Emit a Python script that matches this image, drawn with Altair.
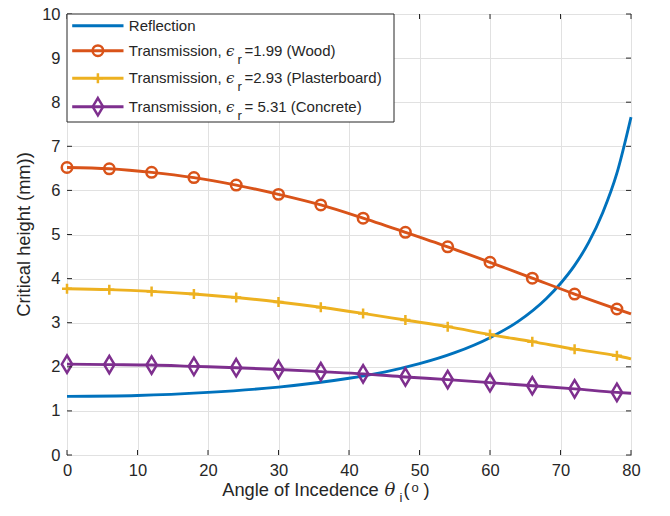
import altair as alt
import pandas as pd

# Reflection curve, sampled more densely where it bends upward
angles_ref = [0, 10, 20, 30, 40, 45, 50, 55, 60, 64, 68, 70, 72, 74, 76, 78, 80]
reflection = [1.33, 1.35, 1.42, 1.54, 1.74, 1.88, 2.07, 2.32, 2.66, 3.03, 3.55,
              3.89, 4.30, 4.82, 5.50, 6.39, 7.66]

# Transmission curves (markers every 6 degrees, line runs to 80)
angles_tx = [0, 6, 12, 18, 24, 30, 36, 42, 48, 54, 60, 66, 72, 78, 80]
wood = [6.52, 6.49, 6.41, 6.29, 6.12, 5.91, 5.67, 5.37, 5.05, 4.72, 4.37, 4.01, 3.65, 3.31, 3.20]
plaster = [3.77, 3.75, 3.71, 3.65, 3.57, 3.47, 3.35, 3.21, 3.06, 2.91, 2.73, 2.57, 2.40, 2.25, 2.18]
concrete = [2.06, 2.05, 2.04, 2.01, 1.98, 1.94, 1.89, 1.84, 1.77, 1.71, 1.64, 1.57, 1.50, 1.42, 1.40]

series_names = ["Reflection", "Wood", "Plasterboard", "Concrete"]
series_colors = ["#0072BD", "#D95319", "#EDB120", "#7E2F8E"]
legend_rest = ["", "=1.99 (Wood)", "=2.93 (Plasterboard)", "= 5.31 (Concrete)"]

x_ticks = [0, 10, 20, 30, 40, 50, 60, 70, 80]
y_ticks = [0, 1, 2, 3, 4, 5, 6, 7, 8, 9, 10]

W, H = 564, 441
INK = "#262626"
SANS = "Liberation Sans"
SERIF = "DejaVu Serif"

SHAPE_CIRCLE = "circle"
SHAPE_PLUS = "M-1,0L1,0M0,-1L0,1"
SHAPE_DIAMOND = "M0,-1L0.6,0L0,1L-0.6,0Z"
marker_shapes = [None, SHAPE_CIRCLE, SHAPE_PLUS, SHAPE_DIAMOND]
marker_sizes = [0, 110, 100, 300]

rows = []
for a, v in zip(angles_ref, reflection):
    rows.append({"series": "Reflection", "angle": a, "h": v})
for name, vals in zip(series_names[1:], [wood, plaster, concrete]):
    for a, v in zip(angles_tx, vals):
        rows.append({"series": name, "angle": a, "h": v})
df = pd.DataFrame(rows)

xs = alt.Scale(domain=[0, 80], nice=False, zero=False)
ys = alt.Scale(domain=[0, 10], nice=False, zero=False)

base = alt.Chart(df)

axes = base.mark_line(opacity=0).encode(
    x=alt.X("angle:Q", scale=xs,
            axis=alt.Axis(values=x_ticks, title=None, grid=True, ticks=False, tickSize=0,
                          domain=False, labelPadding=7, labelFontSize=16.5, labelFlush=False,
                          labelFont=SANS, labelColor=INK, format="d")),
    y=alt.Y("h:Q", scale=ys,
            axis=alt.Axis(values=y_ticks, title=None, grid=True, ticks=False, tickSize=0,
                          domain=False, labelPadding=7, labelFontSize=16.5, labelFlush=False,
                          labelFont=SANS, labelColor=INK, format="d")),
    detail="series:N",
)

layers = [axes]

# data lines
for name, color in zip(series_names, series_colors):
    layers.append(
        base.transform_filter(alt.datum.series == name)
        .mark_line(color=color, strokeWidth=2.9, interpolate="monotone")
        .encode(x=alt.X("angle:Q", scale=xs), y=alt.Y("h:Q", scale=ys))
    )

# hollow markers every 6 degrees
for name, color, shp, sz in zip(series_names[1:], series_colors[1:], marker_shapes[1:], marker_sizes[1:]):
    layers.append(
        base.transform_filter((alt.datum.series == name) & (alt.datum.angle < 80))
        .mark_point(shape=shp, size=sz, filled=False, color=color, strokeWidth=2.5, opacity=1)
        .encode(x=alt.X("angle:Q", scale=xs), y=alt.Y("h:Q", scale=ys))
    )

# inward tick marks on all four sides
xt = alt.Chart(pd.DataFrame({"t": x_ticks}))
yt = alt.Chart(pd.DataFrame({"t": y_ticks}))
TL = 5
layers += [
    xt.mark_rule(color=INK, strokeWidth=1).encode(x=alt.X("t:Q", scale=xs), y=alt.value(H), y2=alt.value(H - TL)),
    xt.mark_rule(color=INK, strokeWidth=1).encode(x=alt.X("t:Q", scale=xs), y=alt.value(0), y2=alt.value(TL)),
    yt.mark_rule(color=INK, strokeWidth=1).encode(y=alt.Y("t:Q", scale=ys), x=alt.value(0), x2=alt.value(TL)),
    yt.mark_rule(color=INK, strokeWidth=1).encode(y=alt.Y("t:Q", scale=ys), x=alt.value(W), x2=alt.value(W - TL)),
]

one = alt.Data(values=[{}])


def text(t, x, y, size, font=SANS, style="normal", align="left", baseline="alphabetic", angle=0):
    return alt.Chart(one).mark_text(
        text=t, font=font, fontSize=size, fontStyle=style, color=INK,
        align=align, baseline=baseline, angle=angle,
    ).encode(x=alt.value(x), y=alt.value(y))


# legend box
layers.append(
    alt.Chart(one).mark_rect(fill="white", stroke=INK, strokeWidth=1)
    .encode(x=alt.value(0), x2=alt.value(327), y=alt.value(0), y2=alt.value(108))
)

row_y = [11.7, 36.7, 64.3, 92.7]
for i, (name, color) in enumerate(zip(series_names, series_colors)):
    ly = row_y[i]
    layers.append(
        alt.Chart(one).mark_rule(color=color, strokeWidth=2.9)
        .encode(x=alt.value(5.2), x2=alt.value(56.5), y=alt.value(ly))
    )
    if marker_shapes[i]:
        layers.append(
            alt.Chart(one).mark_point(shape=marker_shapes[i], size=marker_sizes[i], filled=False,
                                      color=color, strokeWidth=2.5, opacity=1)
            .encode(x=alt.value(30.9), y=alt.value(ly))
        )
    tb = ly + 5
    if i == 0:
        layers.append(text("Reflection", 61.8, tb, 15))
    else:
        layers.append(text("Transmission,", 61.8, tb, 15))
        layers.append(text("\u03f5", 159, tb, 15, font=SERIF, style="italic"))
        layers.append(text("r", 170.5, tb + 8, 13))
        layers.append(text(legend_rest[i], 177.5, tb, 15))

# axis titles
TB = 482
layers += [
    text("Angle of Incedence", 155.2, TB, 18.3),
    text("\u03b8", 317.5, TB, 18, font=SERIF, style="italic"),
    text("i", 332.5, TB + 6, 13),
    text("(", 336.5, TB, 18.3),
    text("o", 344.5, TB - 4, 13),
    text(")", 356.5, TB, 18.3),
    text("Critical height (mm))", -42.5, H / 2, 18.3, align="center", baseline="middle", angle=270),
]

chart = alt.layer(*layers).properties(
    width=W, height=H,
    autosize=alt.AutoSizeParams(type="none"),
    padding={"left": 67, "top": 14, "right": 39, "bottom": 61},
    background="white",
).configure_view(
    stroke=INK, strokeWidth=1,
).configure_axis(
    gridColor="#e1e1e1", gridWidth=1,
)

chart.save("out.html", embed_options={"renderer": "svg", "actions": False})
